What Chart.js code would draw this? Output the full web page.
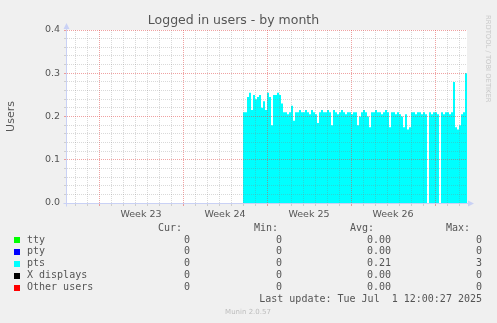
<!DOCTYPE html>
<html>
<head>
<meta charset="utf-8">
<title>Logged in users - by month</title>
<script src="https://cdn.jsdelivr.net/npm/chart.js@4.4.1/dist/chart.umd.min.js"></script>
<style>
  html, body { margin: 0; padding: 0; background: #f0f0f0; }
  #wrap { width: 497px; height: 323px; }
</style>
</head>
<body>
<div id="wrap"><canvas id="usersChart" width="497" height="323"></canvas></div>
<script>
// time axis is in hours since the left edge of the graph (33 days + a bit)
const rangeHours = 800;
const weekStarts = [64, 232, 400, 568, 736];   // Mondays 00:00
const weekLabels = ['Week 23', 'Week 24', 'Week 25', 'Week 26'];
const firstDayLine = 16;

const yLabels = ['0.0', '0.1', '0.2', '0.3', '0.4'];
const yMajor = [0, 0.1, 0.2, 0.3, 0.4];

// pts samples, one every 4 hours
const ptsStart = 352;
const ptsStep = 4;
const ptsValues = [
    0.21, 0.21, 0.245, 0.255, 0.215, 0.25, 0.24, 0.245, 0.25, 0.22,
    0.235, 0.215, 0.255, 0.245, 0.18, 0.25, 0.25, 0.255, 0.25, 0.23,
    0.21, 0.21, 0.205, 0.21, 0.225, 0.19, 0.21, 0.21, 0.215, 0.21,
    0.21, 0.215, 0.21, 0.205, 0.215, 0.21, 0.205, 0.185, 0.21, 0.215,
    0.21, 0.21, 0.215, 0.21, 0.18, 0.215, 0.21, 0.205, 0.21, 0.215,
    0.21, 0.205, 0.21, 0.21, 0.205, 0.21, 0.21, 0.18, 0.2, 0.21,
    0.215, 0.21, 0.2, 0.175, 0.21, 0.21, 0.215, 0.21, 0.21, 0.205,
    0.21, 0.215, 0.21, 0.175, 0.21, 0.21, 0.205, 0.21, 0.205, 0.2,
    0.175, 0.205, 0.17, 0.175, 0.21, 0.21, 0.205, 0.21, 0.21, 0.205,
    0.21, 0.205, 0, 0.21, 0.205, 0.21, 0.21, 0.205, 0, 0.21,
    0.205, 0.21, 0.21, 0.205, 0.21, 0.28, 0.175, 0.17, 0.18, 0.205,
    0.21, 0.3
];

// legend table
const seriesNames = ['tty', 'pty', 'pts', 'X displays', 'Other users'];
const seriesColors = ['#00ff00', '#0000ff', '#00ffff', '#000000', '#ff0000'];
const curValues = ['0', '0', '0', '0', '0'];
const minValues = ['0', '0', '0', '0', '0'];
const avgValues = ['0.00', '0.00', '0.21', '0.00', '0.00'];
const maxValues = ['0', '0', '3', '0', '0'];
const lastUpdate = 'Last update: Tue Jul  1 12:00:27 2025';

const weekMids = weekLabels.map((l, i) => weekStarts[i] + 84);
const dayLines = [];
for (let h = firstDayLine; h < rangeHours; h += 24) dayLines.push(h);
const xTickValues = dayLines.concat(weekMids).sort((a, b) => a - b);

const yTickValues = [];
for (let i = 0; i < yMajor.length - 1; i++) {
    for (let k = 0; k < 5; k++) yTickValues.push(yMajor[i] + (yMajor[i + 1] - yMajor[i]) * k / 5);
}
yTickValues.push(yMajor[yMajor.length - 1]);

const ptsPoints = ptsValues.map((v, i) => ({x: ptsStart + i * ptsStep, y: v}));
ptsPoints.push({x: ptsStart + ptsValues.length * ptsStep, y: ptsValues[ptsValues.length - 1]});

const minorGrid = 'rgba(128,128,128,0.3)';
const majorGrid = 'rgba(225,70,70,0.5)';
const axisColor = '#c9d1f5';
const textColor = '#555';

const muninPlugin = {
    id: 'munin',
    beforeDraw(chart) {
        const ctx = chart.ctx;
        const a = chart.chartArea;
        ctx.save();
        ctx.fillStyle = '#f0f0f0';
        ctx.fillRect(0, 0, chart.width, chart.height);
        ctx.fillStyle = '#ffffff';
        ctx.fillRect(a.left, a.top, a.right - a.left, a.bottom - a.top);
        ctx.restore();
    },
    afterDraw(chart) {
        const ctx = chart.ctx;
        const a = chart.chartArea;
        ctx.save();

        // axes with arrows
        const ax = a.left - 0.5, ay = a.bottom + 0.5;
        ctx.strokeStyle = axisColor;
        ctx.fillStyle = axisColor;
        ctx.lineWidth = 1;
        ctx.beginPath();
        ctx.moveTo(ax, ay + 3);
        ctx.lineTo(ax, a.top - 2);
        ctx.moveTo(ax - 3, ay);
        ctx.lineTo(a.right + 2, ay);
        ctx.stroke();
        ctx.beginPath();
        ctx.moveTo(ax, a.top - 7);
        ctx.lineTo(ax - 3, a.top - 1);
        ctx.lineTo(ax + 3, a.top - 1);
        ctx.closePath();
        ctx.fill();
        ctx.beginPath();
        ctx.moveTo(a.right + 7, ay);
        ctx.lineTo(a.right + 1, ay - 3);
        ctx.lineTo(a.right + 1, ay + 3);
        ctx.closePath();
        ctx.fill();

        // watermark
        ctx.save();
        ctx.translate(488, 15);
        ctx.rotate(Math.PI / 2);
        ctx.fillStyle = '#c8c8c8';
        ctx.font = '6.8px "DejaVu Sans"';
        ctx.textAlign = 'left';
        ctx.textBaseline = 'middle';
        ctx.fillText('RRDTOOL / TOBI OETIKER', 0, 0);
        ctx.restore();

        // legend table
        ctx.font = '10px "DejaVu Sans Mono"';
        ctx.fillStyle = textColor;
        ctx.textBaseline = 'middle';
        ctx.textAlign = 'right';
        const cols = [190, 282, 391, 482];
        const heads = ['Cur:', 'Min:', 'Avg:', 'Max:'];
        const headRight = [182, 278, 374, 470];
        heads.forEach((h, i) => ctx.fillText(h, headRight[i], 228));
        seriesNames.forEach((name, i) => {
            const y = 240 + i * 11.9;
            ctx.fillStyle = seriesColors[i];
            ctx.fillRect(14, Math.round(y) - 3, 6, 6);
            ctx.fillStyle = textColor;
            ctx.textAlign = 'left';
            ctx.fillText(name, 27, y);
            ctx.textAlign = 'right';
            [curValues, minValues, avgValues, maxValues].forEach((arr, c) => ctx.fillText(arr[i], cols[c], y));
        });
        ctx.fillText(lastUpdate, 482, 299.5);

        ctx.font = '7px "DejaVu Sans"';
        ctx.fillStyle = '#bdbdbd';
        ctx.textAlign = 'center';
        ctx.fillText('Munin 2.0.57', 248, 312);
        ctx.restore();
    }
};

Chart.defaults.font.family = '"DejaVu Sans", sans-serif';

new Chart(document.getElementById('usersChart'), {
    type: 'line',
    data: {
        datasets: [{
            label: 'pts',
            data: ptsPoints,
            stepped: true,
            fill: 'origin',
            backgroundColor: '#00ffff',
            borderColor: 'rgba(0,0,0,0)',
            borderWidth: 0,
            pointRadius: 0
        }]
    },
    options: {
        responsive: false,
        devicePixelRatio: 1,
        animation: false,
        layout: { padding: { left: 0, right: 30, top: 0, bottom: 0 } },
        plugins: {
            legend: { display: false },
            tooltip: { enabled: false },
            title: {
                display: true,
                text: 'Logged in users - by month',
                color: textColor,
                font: { size: 12.5, weight: 'normal' },
                padding: { top: 13, bottom: 2 }
            }
        },
        scales: {
            x: {
                type: 'linear',
                min: 0,
                max: rangeHours,
                afterBuildTicks: scale => { scale.ticks = xTickValues.map(v => ({value: v})); },
                afterFit: scale => { scale.height = 120; },
                ticks: {
                    autoSkip: false,
                    maxRotation: 0,
                    padding: 3,
                    color: textColor,
                    font: { size: 9.5 },
                    callback: value => {
                        const i = weekMids.indexOf(value);
                        return i >= 0 ? weekLabels[i] : '';
                    }
                },
                grid: {
                    z: 1,
                    tickLength: 3,
                    borderDash: [1, 1],
                    color: c => weekStarts.includes(c.tick.value) ? majorGrid : (weekMids.includes(c.tick.value) ? 'rgba(0,0,0,0)' : minorGrid),
                    tickColor: c => weekStarts.includes(c.tick.value) ? majorGrid : (weekMids.includes(c.tick.value) ? 'rgba(0,0,0,0)' : minorGrid)
                },
                border: { display: false, dash: [1, 1] }
            },
            y: {
                min: 0,
                max: 0.4,
                afterBuildTicks: scale => { scale.ticks = yTickValues.map(v => ({value: v})); },
                afterFit: scale => { scale.width = 67; },
                title: {
                    display: true,
                    text: 'Users',
                    color: textColor,
                    font: { size: 11 },
                    padding: { top: 5, bottom: 0 }
                },
                ticks: {
                    autoSkip: false,
                    padding: 4,
                    color: textColor,
                    font: { size: 9.5 },
                    callback: (value, index) => index % 5 === 0 ? yLabels[index / 5] : ''
                },
                grid: {
                    z: 1,
                    tickLength: 3,
                    borderDash: [1, 1],
                    color: c => c.index % 5 === 0 ? majorGrid : minorGrid,
                    tickColor: c => c.index % 5 === 0 ? majorGrid : minorGrid
                },
                border: { display: false, dash: [1, 1] }
            }
        }
    },
    plugins: [muninPlugin]
});
</script>
</body>
</html>
